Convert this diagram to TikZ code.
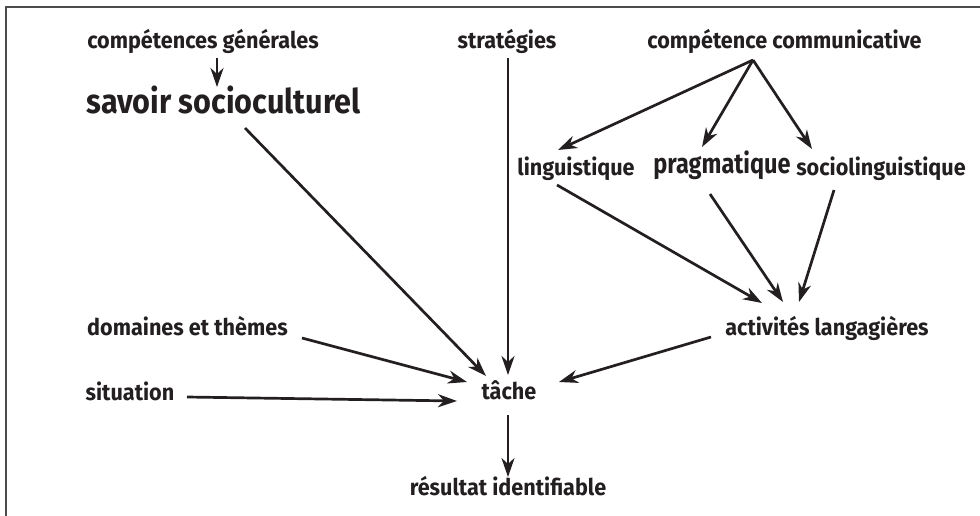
\documentclass[tikz,border=0pt]{standalone}
\usepackage{fontspec}
\setmainfont{Fira Sans}
\newfontfamily\lblfont{Fira Sans}[FakeStretch=0.94]
\newfontfamily\savfont{Fira Sans}[FakeStretch=0.9]
\newfontfamily\pragfont{Fira Sans}[FakeStretch=0.84]
\usetikzlibrary{arrows.meta}
\definecolor{ink}{HTML}{231F20}
\begin{document}
\begin{tikzpicture}[x=1pt,y=-1pt,
  lbl/.style={anchor=base,inner sep=0pt,font=\lblfont\fontsize{23}{25}\selectfont\bfseries,text=ink},
  savlbl/.style={lbl,font=\savfont\fontsize{34}{36}\selectfont\bfseries},
  praglbl/.style={lbl,font=\pragfont\fontsize{28}{30}\selectfont\bfseries},
  link/.style={line width=2.7pt,draw=ink,-{Stealth[length=19pt,width=13pt,inset=6pt]}}]
  \useasboundingbox (0,0) rectangle (980,515);
  \draw[line width=1.2pt,draw=black!70] (6,7) rectangle (990,525);

  % labels, placed by their baselines
  \node[lbl]     (cg)    at (203,48)   {compétences générales};
  \node[savlbl]  (sav)   at (223.5,113){savoir socioculturel};
  \node[lbl]     (strat) at (507,48)   {stratégies};
  \node[lbl]     (cc)    at (784.5,48) {compétence communicative};
  \node[lbl]     (ling)  at (576,175)  {linguistique};
  \node[praglbl] (prag)  at (722,173)  {pragmatique};
  \node[lbl]     (socio) at (881,175)  {sociolinguistique};
  \node[lbl]     (act)   at (827,335)  {activités langagières};
  \node[lbl]     (dom)   at (187.5,335){domaines et thèmes};
  \node[lbl]     (sit)   at (130,400)  {situation};
  \node[lbl]     (tache) at (509,399)  {tâche};
  \node[lbl]     (res)   at (508,495)  {résultat identifiable};

  % connectors
  \draw[link] ([shift={(14,10)}]cg.base) -- ([shift={(-6.5,-26)}]sav.base);
  \draw[link] ([shift={(21.5,15)}]sav.base) -- ([shift={(-23,-23)}]tache.base);
  \draw[link] ([shift={(1,10)}]strat.base) -- ([shift={(-1,-24)}]tache.base);
  \draw[link] ([shift={(-31.5,12)}]cc.base) -- ([shift={(-18,-25)}]ling.base);
  \draw[link] ([shift={(-31.5,12)}]cc.base) -- ([shift={(-20,-26)}]prag.base);
  \draw[link] ([shift={(-31.5,12)}]cc.base) -- ([shift={(-69,-26)}]socio.base);
  \draw[link] ([shift={(-19,10)}]ling.base) -- ([shift={(-65,-32)}]act.base);
  \draw[link] ([shift={(-12,21)}]prag.base) -- ([shift={(-44,-33)}]act.base);
  \draw[link] ([shift={(-47,15)}]socio.base) -- ([shift={(-28,-33)}]act.base);
  \draw[link] ([shift={(-116,2)}]act.base) -- ([shift={(50,-17)}]tache.base);
  \draw[link] ([shift={(114.5,3)}]dom.base) -- ([shift={(-42,-17)}]tache.base);
  \draw[link] ([shift={(57,-3)}]sit.base) -- ([shift={(-52,2)}]tache.base);
  \draw[link] ([shift={(-1,16)}]tache.base) -- ([shift={(0,-18)}]res.base);
\end{tikzpicture}
\end{document}
